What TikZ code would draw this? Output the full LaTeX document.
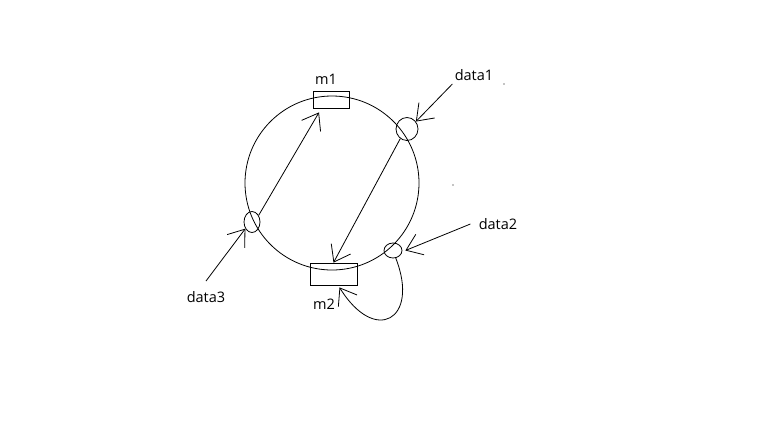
\documentclass[tikz,border=0pt]{standalone}
\usepackage{fontspec}
\setmainfont{Open Sans}
\usetikzlibrary{shapes.geometric,arrows.meta}
\tikzset{
  box/.style={draw,rectangle,inner sep=0pt},
  port/.style={draw,ellipse,inner sep=0pt},
  lbl/.style={font=\fontsize{14.5}{16}\selectfont,inner sep=1pt},
  barb/.style={-{Straight Barb[length=15pt,width=22pt]}}
}
\begin{document}
\begin{tikzpicture}[x=1pt,y=-1pt,line width=0.8pt]
    \useasboundingbox (0,0) rectangle (768,432);
    \draw (332,183) circle (87pt);
    \node[box,minimum width=36pt,minimum height=17pt] (m1) at (331,99.5) {};
    \node[box,minimum width=47pt,minimum height=22pt] (m2) at (333.5,274) {};
    \node[port,minimum width=22pt,minimum height=23pt] (d1) at (407,129) {};
    \node[port,minimum width=18pt,minimum height=15pt] (d2) at (393,250.5) {};
    \node[port,minimum width=16pt,minimum height=21pt] (d3) at (252,222) {};
    \node[lbl] (m1l) at (326,79) {m1};
    \node[lbl] (m2l) at (324,304) {m2};
    \node[lbl] (l1) at (474,75) {data1};
    \node[lbl] (l2) at (498,224) {data2};
    \node[lbl] (l3) at (206,297) {data3};
    \draw[barb] ([xshift=-1pt,yshift=-2pt]l1.south west) -- (d1.40);
    \draw[barb] ([xshift=-7pt]l2.west) -- ([xshift=3pt]d2.east);
    \draw[barb] ([yshift=9pt]l3.north) -- (d3.225);
    \draw[barb] (d3.45) -- ([xshift=-12pt,yshift=-4pt]m1.south);
    \draw[barb] (d1.235) -- (m2.north);
    \draw[barb] (d2.290) .. controls (420,320) and (375,345) .. ([xshift=6pt,yshift=-2pt]m2.south);
    \fill (504,84) circle (0.6pt);
    \fill (453,185) circle (0.6pt);
\end{tikzpicture}
\end{document}
